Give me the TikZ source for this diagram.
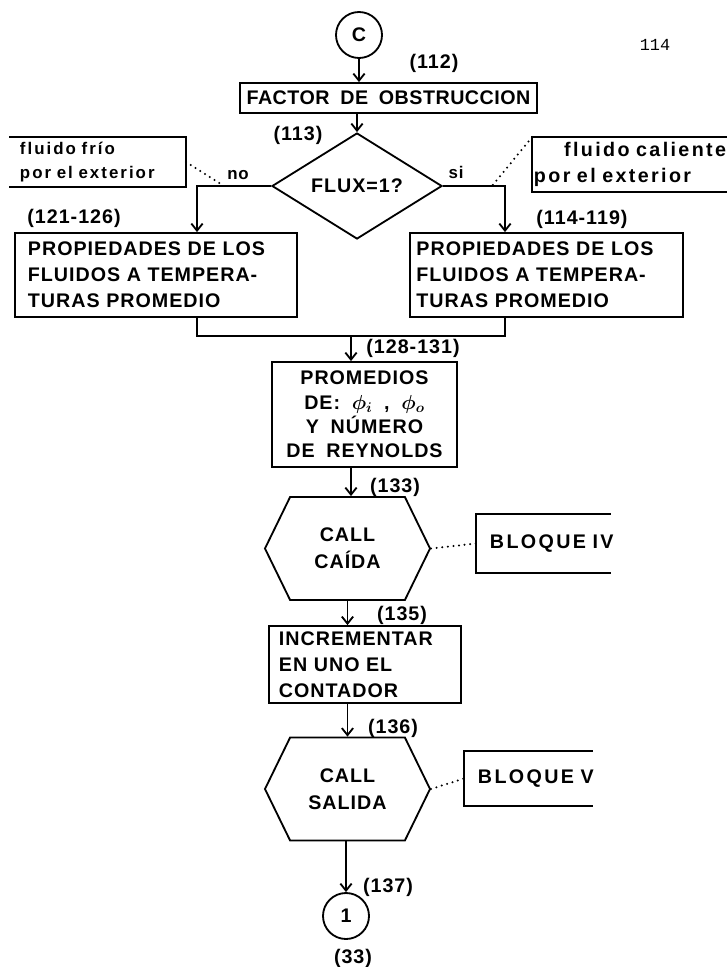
\documentclass[tikz,border=0pt]{standalone}
\usepackage{fontspec}
\newfontfamily\lettering[LetterSpace=5,WordSpace=1.8]{Liberation Sans}
\newfontfamily\notefont[LetterSpace=12,WordSpace=1.5]{Liberation Sans}
\newfontfamily\pagefont{Liberation Mono}
\usetikzlibrary{positioning,arrows.meta,shapes.geometric,shapes.symbols}

\begin{document}
\begin{tikzpicture}[x=0.025cm,y=-0.025cm,>={Straight Barb[length=5pt,width=8pt]},
		line width=1.3pt,
		every node/.style={font=\lettering\bfseries\fontsize{14}{18.4}\selectfont},
		proc/.style={draw,rectangle,inner sep=0pt},
		conn/.style={draw,circle,minimum size=1.15cm,inner sep=0pt},
		callbox/.style={draw,signal,signal to=east and west,signal pointer angle=128,
			minimum width=4.125cm,minimum height=2.575cm,inner sep=0pt,align=center,
			font=\lettering\bfseries\fontsize{14}{19}\selectfont},
		note/.style={inner sep=0pt,align=left,font=\notefont\bfseries\fontsize{12}{17}\selectfont},
		bloq/.style={inner sep=0pt,align=left,
			font=\lettering\addfontfeature{LetterSpace=12}\bfseries\fontsize{14}{17}\selectfont},
		lbl/.style={inner sep=0pt},
		dots/.style={line width=1.6pt,dash pattern=on 0pt off 4pt,line cap=round}]
	
	\useasboundingbox (0,0) rectangle (727,967);
	
	\node[font=\pagefont\fontsize{12}{14}\selectfont] (page) at (655,45) {114};
	
	\node[conn] (c) at (359,35) {C};
	\node[lbl] (l112) at (434,63) {(112)};
	\node[proc,minimum width=7.425cm,minimum height=0.75cm,
		font=\lettering\addfontfeature{LetterSpace=2.5}\bfseries\fontsize{14}{17}\selectfont] (factor) at (388.5,98)
		{FACTOR DE OBSTRUCCION};
	
	\node[lbl] (l113) at (298,135) {(113)};
	\node[draw,diamond,aspect=1.6,minimum width=4.25cm,minimum height=2.65cm,inner sep=0pt] (flux) at (357,186) {FLUX=1?};
	\node[lbl,font=\lettering\bfseries\fontsize{12}{14}\selectfont] (no) at (238,175) {no};
	\node[lbl,font=\lettering\bfseries\fontsize{12}{14}\selectfont] (si) at (456,172) {si};
	
	% notas de los fluidos
	\node[note,minimum width=4.375cm,minimum height=1.2cm,text width=3.875cm] (frio) at (97.5,162) {fluido frío\\por el exterior};
	\draw (frio.north west) -- (frio.north east) -- (frio.south east) -- (frio.south west);
	\node[note,minimum width=4.85cm,minimum height=1.325cm,text width=4.8cm,
		font=\notefont\bfseries\fontsize{14}{18}\selectfont] (calien) at (630,164.5) {\hfill fluido caliente\\por el exterior};
	\draw (calien.north east) -- (calien.north west) -- (calien.south west) -- (calien.south east);
	
	\node[lbl] (l121) at (74,218) {(121-126)};
	\node[lbl] (l114) at (582,219) {(114-119)};
	\node[proc,minimum width=7.05cm,minimum height=2.1cm,text width=6.4cm,align=left] (lprop) at (156,275)
		{PROPIEDADES DE LOS\\FLUIDOS A TEMPERA-\\TURAS PROMEDIO};
	\node[proc,minimum width=6.825cm,minimum height=2.1cm,text width=6.5cm,align=left] (rprop) at (546.5,275)
		{PROPIEDADES DE LOS\\FLUIDOS A TEMPERA-\\TURAS PROMEDIO};
	
	\coordinate (nopt) at (224,186);
	\coordinate (sipt) at (492,186);
	\coordinate (ljoin) at (197,336);
	\coordinate (rjoin) at (505,336);
	\coordinate (merge) at (351,336);
	
	\node[lbl] (l128) at (413,348) {(128-131)};
	\node[proc,minimum width=4.625cm,minimum height=2.625cm,align=center,
		font=\lettering\bfseries\fontsize{14}{17.4}\selectfont] (prom) at (364.5,414.5)
		{PROMEDIOS\\DE: {\boldmath$\phi_i$} , {\boldmath$\phi_o$}\\Y NÚMERO\\DE REYNOLDS};
	
	\node[lbl] (l133) at (395,487) {(133)};
	\node[callbox] (caida) at (347.5,548.5) {CALL\\CAÍDA};
	\node[bloq,minimum width=3.325cm,minimum height=1.425cm,text width=2.675cm] (bloq4) at (543.5,543.5)
		{\makebox[0pt][l]{BLOQUE IV}};
	\draw (bloq4.north east) -- (bloq4.north west) -- (bloq4.south west) -- (bloq4.south east);
	
	\node[lbl] (l135) at (402,615) {(135)};
	\node[proc,minimum width=4.8cm,minimum height=1.925cm,text width=4.3cm,align=left] (incr) at (365,664.5)
		{INCREMENTAR\\EN UNO EL\\CONTADOR};
	
	\node[lbl] (l136) at (393,728) {(136)};
	\node[callbox] (salida) at (347.5,789) {CALL\\SALIDA};
	\node[bloq,minimum width=3.175cm,minimum height=1.325cm,text width=2.525cm] (bloq5) at (528.5,778.5)
		{\makebox[0pt][l]{BLOQUE V}};
	\draw (bloq5.north east) -- (bloq5.north west) -- (bloq5.south west) -- (bloq5.south east);
	
	\node[lbl] (l137) at (388,887) {(137)};
	\node[conn] (uno) at (346,916) {1};
	\node[lbl] (l33) at (353,958) {(33)};
	
	% conectores
	\draw[->] (c) -- (c |- factor.north);
	\draw[->] (flux.north |- factor.south) -- (flux.north);
	\draw[->] (flux.west) -| (ljoin |- lprop.north);
	\draw[->] (flux.east) -| (rjoin |- rprop.north);
	\draw (ljoin |- lprop.south) -- (ljoin) -- (rjoin) -- (rjoin |- rprop.south);
	\draw[->] (merge) -- (merge |- prom.north);
	\draw[->] (merge |- prom.south) -- (merge |- caida.north);
	\draw[->] (caida.south) -- (caida.south |- incr.north);
	\draw[->] (salida.north |- incr.south) -- (salida.north);
	\draw[->] (salida.south -| uno) -- (uno);
	
	\draw[dots] (frio.east) -- (nopt);
	\draw[dots] (calien.north west) -- (sipt);
	\draw[dots] (caida.east) -- (bloq4.west);
	\draw[dots] (salida.east) -- (bloq5.west);
	
\end{tikzpicture}
\end{document}
